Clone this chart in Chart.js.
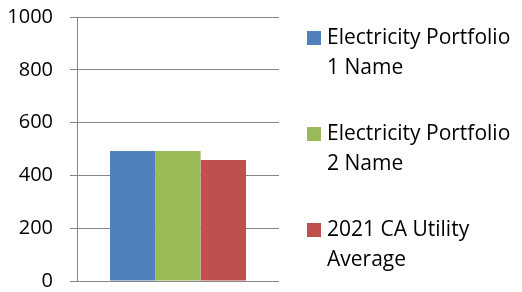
<!DOCTYPE html>
<html lang="en">
<head>
  <meta charset="UTF-8"/>
  <title>Electricity Portfolio Comparison</title>
  <script src="https://cdn.jsdelivr.net/npm/chart.js"></script>
  <style>
    html, body { margin: 0; padding: 0; background: #fff; }
    .chart-container { width: 522px; height: 292px; position: relative; }
  </style>
</head>
<body>
  <div class="chart-container">
    <canvas id="portfolioChart"></canvas>
  </div>

  <script>
    // Data
    const categories = [''];
    const seriesNames = [
      ['Electricity Portfolio', '1 Name'],
      ['Electricity Portfolio', '2 Name'],
      ['2021 CA Utility', 'Average']
    ];
    const seriesValues = [[492], [492], [458]];
    const seriesColors = ['#4F81BD', '#9BBB59', '#C0504D'];

    const gridColor = '#878787';
    const fontFamily = "'Open Sans', sans-serif";

    // Legend drawn on the right, lines wrapped like the original
    const sideLegend = {
      id: 'sideLegend',
      afterDraw(chart) {
        const ctx = chart.ctx;
        const lineH = 30, itemGap = 36, box = 14;
        const x = 307;
        const items = chart.data.datasets;
        let total = 0;
        items.forEach(ds => total += ds.lines.length * lineH);
        total += itemGap * (items.length - 1);
        let y = (chart.height - total) / 2 + 3;
        ctx.save();
        ctx.font = '21px ' + fontFamily;
        ctx.textBaseline = 'middle';
        items.forEach(ds => {
          const cy = y + lineH / 2;
          ctx.fillStyle = ds.backgroundColor;
          ctx.fillRect(x, cy - box / 2, box, box);
          ctx.fillStyle = '#000';
          ds.lines.forEach((t, i) => ctx.fillText(t, x + 20, cy + i * lineH));
          y += ds.lines.length * lineH + itemGap;
        });
        ctx.restore();
      }
    };

    const ctx = document.getElementById('portfolioChart').getContext('2d');
    new Chart(ctx, {
      type: 'bar',
      data: {
        labels: categories,
        datasets: seriesNames.map((name, i) => ({
          label: name.join(' '),
          lines: name,
          data: seriesValues[i],
          backgroundColor: seriesColors[i],
          categoryPercentage: 0.673,
          barPercentage: 1.0
        }))
      },
      options: {
        responsive: true,
        maintainAspectRatio: false,
        animation: false,
        layout: { padding: { top: 17, right: 243, bottom: 11, left: 0 } },
        plugins: {
          legend: { display: false },
          tooltip: { enabled: false }
        },
        scales: {
          x: {
            display: false
          },
          y: {
            min: 0,
            max: 1000,
            ticks: {
              stepSize: 200,
              color: '#000',
              font: { family: fontFamily, size: 20 },
              padding: 17,
              callback: v => String(v)
            },
            grid: { color: gridColor, lineWidth: 1, tickLength: 7 },
            border: { color: gridColor, width: 1 },
            afterFit(scale) {
              // keep the plot edges where the original has them
              scale.width = 77;
              scale.paddingTop = 0;
              scale.paddingBottom = 0;
            }
          }
        }
      },
      plugins: [sideLegend]
    });
  </script>
</body>
</html>
